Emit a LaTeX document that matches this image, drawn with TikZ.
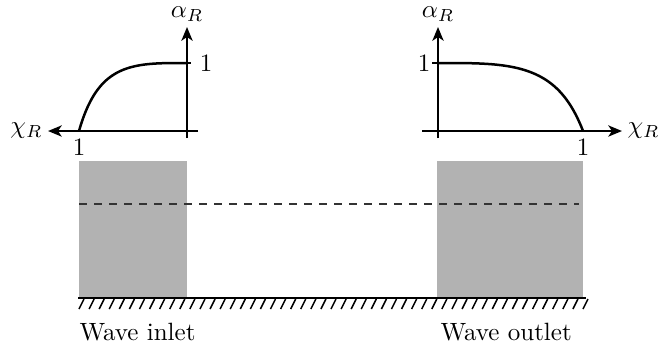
\documentclass[tikz,border=0pt]{standalone}
\usetikzlibrary{arrows.meta}
\begin{document}
\begin{tikzpicture}[x=0.4pt,y=-0.4pt,
  axisline/.style={line width=0.8pt,-{Stealth[length=5.5pt,width=4.5pt,inset=1.5pt]}},
  plain/.style={line width=0.8pt},
  curveline/.style={line width=1pt},
  zone/.style={fill=black!30},
  lbl/.style={inner sep=0pt}]
\useasboundingbox (0,0) rectangle (658,349);
% relaxation zones
\fill[zone] (79,161) rectangle (187,298);
\fill[zone] (437,161) rectangle (583,298);
% still water level
\coordinate (wl1) at (79,204);
\coordinate (wl2) at (579,204);
\draw[line width=0.8pt,black!80,dash pattern=on 3.3pt off 2.7pt] (wl1) -- (wl2);
% bottom
\coordinate (g1) at (78,298);
\coordinate (g2) at (586,298);
\draw[plain] (g1) -- (g2);
\foreach \i in {0,...,50} \draw[line width=0.6pt] ({79+10.08*\i},309) -- ({84+10.08*\i},299);
% left plot
\coordinate (lxa) at (198,131);
\coordinate (lxb) at (48,131);
\coordinate (lya) at (187,138);
\coordinate (lyb) at (187,27);
\draw[axisline] (lxa) -- (lxb);
\draw[axisline] (lya) -- (lyb);
\draw[plain] (187,63) -- (191,63);
\draw[curveline] plot[domain=0.0001:1,samples=80] ({187-108*\x},{131-68*(1-(exp(\x^3.5)-1)/(exp(1)-1))});
\node[lbl,above=2pt] (lalpha) at (lyb) {$\alpha_R$};
\node[lbl,left=2pt] (lchi) at (lxb) {$\chi_R$};
\node (lone) at (206,63) {1};
\node (lonex) at (79,147) {1};
% right plot
\coordinate (rxa) at (422,131);
\coordinate (rxb) at (622,131);
\coordinate (rya) at (438,138);
\coordinate (ryb) at (438,27);
\draw[axisline] (rxa) -- (rxb);
\draw[axisline] (rya) -- (ryb);
\draw[plain] (432,63) -- (438,63);
\draw[curveline] plot[domain=0.0001:1,samples=80] ({438+145*\x},{131-68*(1-(exp(\x^3.5)-1)/(exp(1)-1))});
\node[lbl,above=2pt] (ralpha) at (ryb) {$\alpha_R$};
\node[lbl,right=2pt] (rchi) at (rxb) {$\chi_R$};
\node (rone) at (424,63) {1};
\node (ronex) at (583,147) {1};
% captions
\node[lbl,anchor=base west] (inlet) at (79,340) {Wave inlet};
\node[lbl,anchor=base west] (outlet) at (440,340) {Wave outlet};
\end{tikzpicture}
\end{document}
